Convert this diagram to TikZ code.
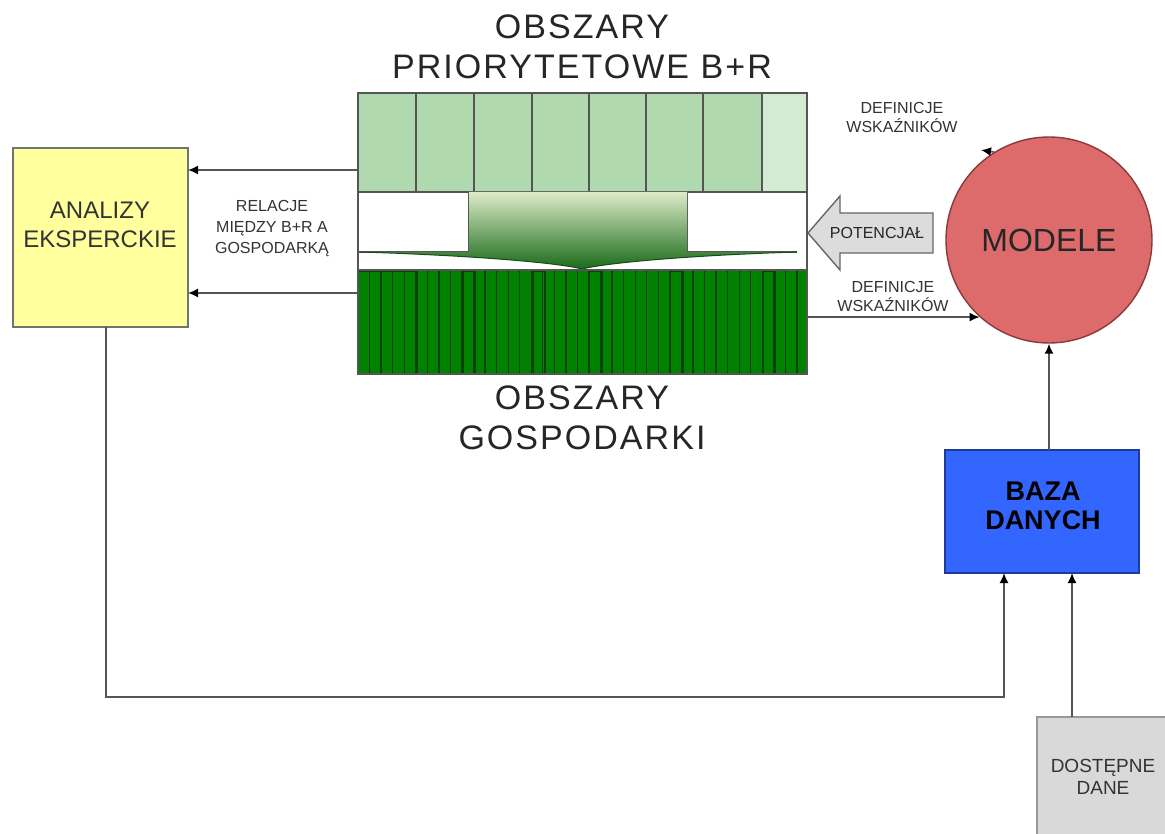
\documentclass[tikz,border=0pt]{standalone}
\usepackage{fontspec}
\setmainfont{Liberation Sans}
\usetikzlibrary{arrows.meta,calc}
\definecolor{yel}{HTML}{FFFF9E}
\definecolor{lgreen}{HTML}{B0D9B0}
\definecolor{llgreen}{HTML}{D3EBD3}
\definecolor{dgreen}{HTML}{008200}
\definecolor{stripec}{HTML}{0B400B}
\definecolor{redc}{HTML}{DE6B6B}
\definecolor{redb}{HTML}{8B3A3A}
\definecolor{bluec}{HTML}{3366FF}
\definecolor{blueb}{HTML}{1F3A99}
\definecolor{greyc}{HTML}{D9D9D9}
\definecolor{potc}{HTML}{DCDCDC}
\definecolor{linec}{HTML}{555555}
\definecolor{txt}{HTML}{333333}
\definecolor{gtop}{HTML}{DDEBC8}
\definecolor{gmid}{HTML}{9DBB7A}
\definecolor{gbot}{HTML}{1A6B1A}
\definecolor{gedge}{HTML}{1A4A1A}
\newcommand\fsz[2]{\fontsize{#1}{#2}\selectfont}
\begin{document}
\begin{tikzpicture}[x=1pt,y=-1pt,
  arr/.style={draw=linec,line width=1.6pt,-{Latex[length=10pt,width=9pt,color=black]}},
  boxn/.style={anchor=north west,inner sep=0pt,outer sep=0pt},
  cellb/.style={draw=linec,line width=1.6pt},
  heading/.style={align=center,text=black!85,font=\fsz{34}{40}\addfontfeature{LetterSpace=6}},
  small/.style={align=center,text=txt,font=\fsz{16}{19}},
  stripe/.style={draw=stripec,line width=1.3pt}]
\useasboundingbox (0,0) rectangle (1165,834);
\fill[white] (0,0) rectangle (1165,834);

% headings
\node[heading] (h1) at (582,47) {OBSZARY\\PRIORYTETOWE B+R};
\node[heading] (h2) at (582,418) {OBSZARY\\GOSPODARKI};

% Analizy eksperckie
\node[boxn,draw=black!55,line width=1.8pt,fill=yel,minimum width=175pt,minimum height=179pt] (an) at (13,148) {};
\node[align=center,text=txt,font=\fsz{24}{29}] (antxt) at (100,225) {ANALIZY\\EKSPERCKIE};

% priority areas bar
\node[boxn,minimum width=449pt,minimum height=99pt] (prio) at (358,93) {};
\foreach \a/\b in {358/416,416/474,474/532,532/589,589/646,646/703,703/762}
  \draw[cellb,fill=lgreen] (\a,93) rectangle (\b,192);
\draw[cellb,fill=llgreen] (762,93) rectangle (807,192);

% middle relation zone
\draw[draw=linec,line width=1.4pt,fill=white] (358,192) rectangle (807,270);
\draw[draw=linec,line width=1.4pt] (469,192) -- (469,252) -- (358,252);
\draw[draw=linec,line width=1.4pt] (687,192) -- (687,252) -- (797,252);
\shade[top color=gtop,middle color=gmid,bottom color=gbot] (469,192) -- (687,192) -- (687,252) -- (797,252)
  .. controls (700,255) and (610,262) .. (582,269)
  .. controls (555,262) and (460,255) .. (360,252) -- (469,252) -- cycle;
\draw[draw=gedge,line width=1pt] (797,252) .. controls (700,255) and (610,262) .. (582,269)
  .. controls (555,262) and (460,255) .. (360,252);
\node[small,font=\fsz{16}{21}] (rel) at (272,229) {RELACJE\\MIĘDZY B+R A\\GOSPODARKĄ};

% economy bar
\node[boxn,fill=dgreen,minimum width=449pt,minimum height=104pt] (gosp) at (358,270) {};
\foreach \i in {1,...,38}
  \draw[stripe] ({358+\i*11.55},271) -- ({358+\i*11.55},373);
\foreach \a/\b in {358/417,463/475,533/545,589/602,670/683,763/775}
  \draw[draw=stripec,line width=1.6pt] (\a,271) rectangle (\b,374);
\draw[draw=linec,line width=1.6pt] (358,270) rectangle (807,374);

% arrows to Analizy
\coordinate (a1) at (358,170);
\coordinate (a2) at (358,293);
\draw[arr] (a1) -- (a1 -| an.east);
\draw[arr] (a2) -- (a2 -| an.east);

% MODELE
\node[circle,draw=redb,line width=1.4pt,fill=redc,minimum size=206pt,inner sep=0pt] (m) at (1049,240) {};
\node[font=\fsz{32}{36},text=black!85] (mt) at (1049,240) {MODELE};

% POTENCJAL arrow
\draw[draw=black!60,line width=1.4pt,fill=potc] (808,233) -- (840,196) -- (840,213) -- (933,213) -- (933,253) -- (840,253) -- (840,270) -- cycle;
\node[font=\fsz{16}{19},text=black!85] (pot) at (877,233) {POTENCJAŁ};

% definitions
\node[small] (d1) at (902,117) {DEFINICJE\\WSKAŹNIKÓW};
\node[small] (d2) at (893,296) {DEFINICJE\\WSKAŹNIKÓW};
\coordinate (u1) at (m.122);
\draw[arr] (u1) -- ++(-13,-2);
\draw[arr] (m.228 -| gosp.east) -- (m.228);

% BAZA DANYCH
\node[boxn,draw=blueb,line width=1.6pt,fill=bluec,minimum width=194pt,minimum height=123pt] (baza) at (945,450) {};
\node[align=center,font=\bfseries\fsz{27}{29},text=black] (bt) at (1043,506) {BAZA\\DANYCH};
\draw[arr] (baza.north -| m.south) -- (m.south);

% DOSTEPNE DANE
\node[boxn,draw=black!40,line width=1.6pt,fill=greyc,minimum width=134pt,minimum height=130pt] (dost) at (1037,717) {};
\node[align=center,text=txt,font=\fsz{19}{22}] (dt) at (1103,777) {DOSTĘPNE\\DANE};

\coordinate (b1) at ([xshift=-38pt]baza.south);
\coordinate (b2) at ([xshift=30pt]baza.south);
\draw[arr] ([xshift=5.5pt]an.south) -- ++(0,370) -| (b1);
\draw[arr] (dost.north -| b2) -- (b2);
\end{tikzpicture}
\end{document}
